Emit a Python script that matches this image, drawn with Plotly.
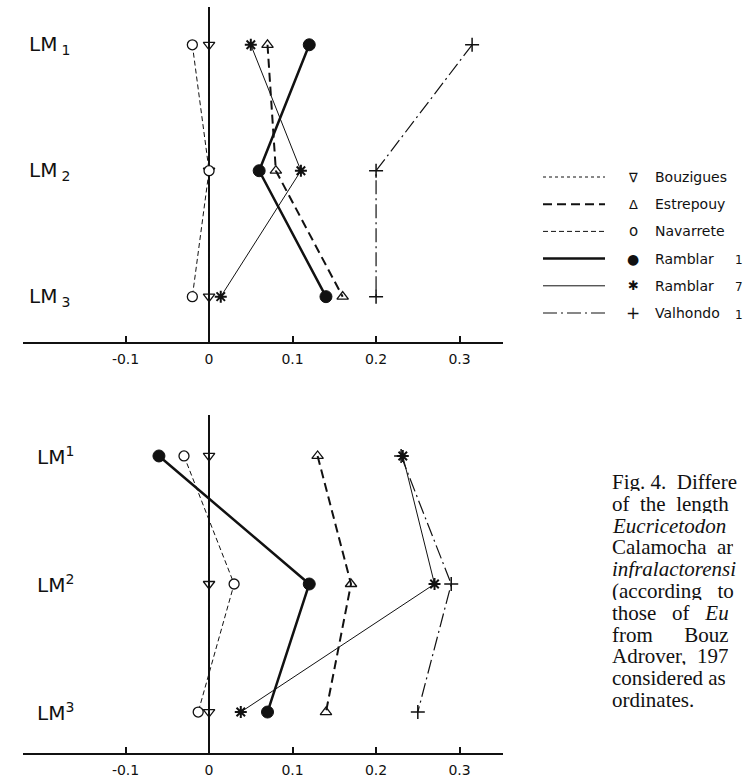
import plotly.graph_objects as go

# ---------------- data ----------------
rows = ["LM1", "LM2", "LM3"]
series_names = ["Bouzigues", "Estrepouy", "Navarrete", "Ramblar 1", "Ramblar 7", "Valhondo 1"]

# upper panel: lower molars (LM1, LM2, LM3 subscript)
bouzigues_lower = [0.0, 0.0, 0.0]
estrepouy_lower = [0.07, 0.08, 0.16]
navarrete_lower = [-0.02, 0.0, -0.02]
ramblar1_lower = [0.12, 0.06, 0.14]
ramblar7_lower = [0.05, 0.11, 0.014]
valhondo_lower = [0.315, 0.2, 0.2]

# lower panel: upper molars (LM1, LM2, LM3 superscript)
bouzigues_upper = [0.0, 0.0, 0.0]
estrepouy_upper = [0.13, 0.17, 0.14]
navarrete_upper = [-0.03, 0.03, -0.013]
ramblar1_upper = [-0.06, 0.12, 0.07]
ramblar7_upper = [0.232, 0.27, 0.038]
valhondo_upper = [0.23, 0.29, 0.25]

tick_vals = [-0.1, 0.0, 0.1, 0.2, 0.3]
tick_text = ["-0.1", "0", "0.1", "0.2", "0.3"]

lower_labels = ["LM\u2009<sub>1</sub>", "LM\u2009<sub>2</sub>", "LM\u2009<sub>3</sub>"]
upper_labels = ["LM<sup>1</sup>", "LM<sup>2</sup>", "LM<sup>3</sup>"]

caption_lines = [
    "Fig.\u00a04.\u00a0\u00a0Differe",
    "of\u00a0\u00a0the\u00a0\u00a0length",
    "<i>Eucricetodon</i>",
    "Calamocha\u00a0\u00a0ar",
    "<i>infralactorensi</i>",
    "(according\u00a0\u00a0\u00a0to",
    "those\u00a0\u00a0\u00a0of\u00a0\u00a0\u00a0<i>Eu</i>",
    "from\u00a0\u00a0\u00a0\u00a0\u00a0\u00a0Bouz",
    "Adrover,\u00a0\u00a0197",
    "considered\u00a0as",
    "ordinates.",
]

# ---------------- styles ----------------
W, H = 746, 777
K = "#111111"
line_styles = [
    dict(color=K, width=1, dash="dot"),
    dict(color=K, width=2, dash="9px,5px"),
    dict(color=K, width=1, dash="5px,3px"),
    dict(color=K, width=2.5, dash="solid"),
    dict(color=K, width=1, dash="solid"),
    dict(color=K, width=1.2, dash="14px,4px,2px,4px"),
]
marker_styles = [
    dict(symbol="triangle-down-open", size=10, color=K, line=dict(color=K, width=1.3)),
    dict(symbol="triangle-up-open", size=10, color=K, line=dict(color=K, width=1.3)),
    dict(symbol="circle", size=10, color="white", line=dict(color=K, width=1.3)),
    dict(symbol="circle", size=12, color=K, line=dict(color=K, width=1)),
    dict(symbol="asterisk-open", size=10, color=K, line=dict(color=K, width=2)),
    dict(symbol="cross-thin-open", size=10, color=K, line=dict(color=K, width=1.5)),
]
legend_glyphs = ["\u2207", "\u0394", "o", "\u25cf", "\u2731", "+"]
legend_glyph_sizes = [13, 13, 15, 14, 13, 17]

lower_data = [bouzigues_lower, estrepouy_lower, navarrete_lower, ramblar1_lower, ramblar7_lower, valhondo_lower]
upper_data = [bouzigues_upper, estrepouy_upper, navarrete_upper, ramblar1_upper, ramblar7_upper, valhondo_upper]

fig = go.Figure()
for xa, ya, data in [("x", "y", lower_data), ("x2", "y2", upper_data)]:
    for name, vals, ls, ms in zip(series_names, data, line_styles, marker_styles):
        fig.add_trace(go.Scatter(
            x=vals, y=rows, xaxis=xa, yaxis=ya, mode="lines+markers",
            name=name, line=ls, marker=ms, showlegend=False, cliponaxis=False,
            hoverinfo="skip",
        ))


def px_x(p):
    return p / W


def px_y(p):
    return 1 - p / H


x_dom = [px_x(23), px_x(503)]
x_range = [-0.2228, 0.352]
xaxis_common = dict(
    range=x_range, domain=x_dom, showgrid=False, zeroline=True,
    zerolinecolor=K, zerolinewidth=2.2, showline=True, linecolor=K, linewidth=1.5,
    ticks="inside", ticklen=6, tickwidth=1.5, tickcolor=K,
    tickvals=tick_vals, ticktext=tick_text, ticklabelstandoff=3,
    tickfont=dict(family="DejaVu Sans", size=14, color=K),
)
yaxis_common = dict(type="category", categoryarray=rows, visible=False, showgrid=False, zeroline=False)

fig.update_layout(
    width=W, height=H, margin=dict(l=0, r=0, t=0, b=0),
    paper_bgcolor="white", plot_bgcolor="white",
    xaxis=dict(anchor="y", **xaxis_common),
    xaxis2=dict(anchor="y2", **xaxis_common),
    yaxis=dict(anchor="x", domain=[px_y(342), px_y(7)], range=[2.36, -0.3], **yaxis_common),
    yaxis2=dict(anchor="x2", domain=[px_y(753), px_y(415)], range=[2.32, -0.32], **yaxis_common),
)

annotations = []
for r, lab in zip(rows, lower_labels):
    annotations.append(dict(x=-0.218, y=r, xref="x", yref="y", text=lab, showarrow=False,
                            xanchor="left", yanchor="middle",
                            font=dict(family="DejaVu Sans", size=20, color=K)))
for r, lab in zip(rows, upper_labels):
    annotations.append(dict(x=-0.208, y=r, xref="x2", yref="y2", text=lab, showarrow=False,
                            xanchor="left", yanchor="middle",
                            font=dict(family="DejaVu Sans", size=20, color=K)))

# custom legend
shapes = []
for i, (name, ls, g, gs) in enumerate(zip(series_names, line_styles, legend_glyphs, legend_glyph_sizes)):
    yy = px_y(177 + 27.2 * i)
    shapes.append(dict(type="line", xref="paper", yref="paper", x0=px_x(543), x1=px_x(605),
                       y0=yy, y1=yy, line=dict(color=K, width=ls["width"], dash=ls["dash"])))
    annotations.append(dict(x=px_x(633), y=yy, xref="paper", yref="paper", text=g, showarrow=False,
                            xanchor="center", yanchor="middle",
                            font=dict(family="DejaVu Sans", size=gs, color=K)))
    parts = name.rsplit(" ", 1)
    if len(parts) == 2 and parts[1].isdigit():
        word, num = parts
    else:
        word, num = name, None
    annotations.append(dict(x=px_x(653), y=yy, xref="paper", yref="paper", text=word,
                            showarrow=False, xanchor="left", yanchor="middle",
                            font=dict(family="DejaVu Sans", size=14, color=K)))
    if num:
        annotations.append(dict(x=px_x(745), y=yy - 1.5 / H, xref="paper", yref="paper", text=num,
                                showarrow=False, xanchor="right", yanchor="middle",
                                font=dict(family="DejaVu Sans", size=12, color=K)))

# caption
for i, t in enumerate(caption_lines):
    annotations.append(dict(x=px_x(610), y=px_y(482 + 21.8 * i), xref="paper", yref="paper", text=t,
                            showarrow=False, xanchor="left", yanchor="middle", height=18,
                            font=dict(family="Liberation Serif", size=21, color=K)))

fig.update_layout(annotations=annotations, shapes=shapes)
fig.write_html("out.html", config={"displayModeBar": False},
               post_script="document.body.style.margin='0';document.body.style.overflow='hidden';")
